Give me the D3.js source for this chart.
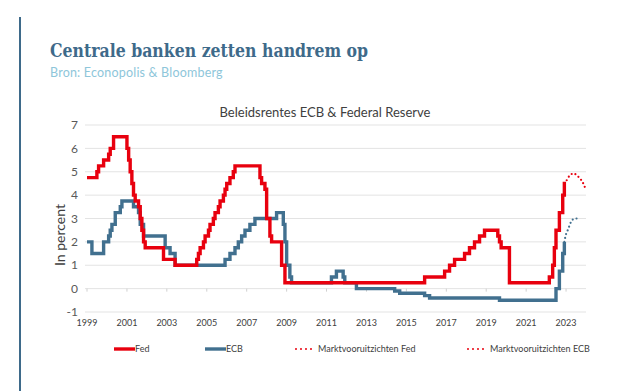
<!DOCTYPE html>
<html>
<head>
<meta charset="utf-8">
<script src="https://cdn.jsdelivr.net/npm/d3@7"></script>
<style>
  body { margin: 0; background: #fff; }
  text { font-family: Lato, "Noto Sans", sans-serif; }
</style>
</head>
<body>
<div id="chart"></div>
<script>
// Fed funds target (upper bound), change points
var fedDates = ["1999-01","1999-07","1999-08","1999-11","2000-02","2000-03","2000-05",
  "2001-01","2001-02","2001-03","2001-04","2001-05","2001-06","2001-08","2001-09","2001-10","2001-11","2001-12",
  "2002-11","2003-06","2004-07","2004-08","2004-09","2004-11","2004-12","2005-02","2005-03","2005-05","2005-06",
  "2005-08","2005-09","2005-11","2005-12","2006-01","2006-03","2006-05","2006-06",
  "2007-09","2007-10","2007-12","2008-01","2008-03","2008-04","2008-10","2008-12",
  "2015-12","2016-12","2017-03","2017-06","2017-12","2018-03","2018-06","2018-09","2018-12",
  "2019-08","2019-09","2019-10","2020-03","2022-03","2022-05","2022-06","2022-07","2022-09","2022-11","2022-12","2023-01"];
var fedRates = [4.75,5.0,5.25,5.5,5.75,6.0,6.5,
  6.0,5.5,5.0,4.5,4.0,3.75,3.5,3.0,2.5,2.0,1.75,
  1.25,1.0,1.25,1.5,1.75,2.0,2.25,2.5,2.75,3.0,3.25,
  3.5,3.75,4.0,4.25,4.5,4.75,5.0,5.25,
  4.75,4.5,4.25,3.0,2.25,2.0,1.0,0.25,
  0.5,0.75,1.0,1.25,1.5,1.75,2.0,2.25,2.5,
  2.25,2.0,1.75,0.25,0.5,1.0,1.75,2.5,3.25,4.0,4.5,4.5];

// ECB deposit rate, change points
var ecbDates = ["1999-01","1999-04","1999-11","2000-02","2000-03","2000-04","2000-06","2000-09","2000-10",
  "2001-05","2001-08","2001-09","2001-11","2002-12","2003-03","2003-06",
  "2005-12","2006-03","2006-06","2006-08","2006-10","2006-12","2007-03","2007-06",
  "2008-07","2008-11","2008-12","2009-01","2009-03","2009-04",
  "2011-04","2011-07","2011-11","2011-12","2012-07","2014-06","2014-09","2015-12","2016-03","2019-09",
  "2022-07","2022-09","2022-11","2022-12"];
var ecbRates = [2.0,1.5,2.0,2.25,2.5,2.75,3.25,3.5,3.75,
  3.5,3.25,2.75,2.25,1.75,1.5,1.0,
  1.25,1.5,1.75,2.0,2.25,2.5,2.75,3.0,
  3.25,2.75,2.0,1.0,0.5,0.25,
  0.5,0.75,0.5,0.25,0.0,-0.1,-0.2,-0.3,-0.4,-0.5,
  0.0,0.75,1.5,2.0];

// market expectations
var fedFcDates = ["2022-12","2023-01","2023-02","2023-03","2023-04","2023-05","2023-06","2023-07",
  "2023-08","2023-09","2023-10","2023-11","2023-12","2024-01"];
var fedFcRates = [4.5,4.6,4.7,4.82,4.88,4.92,4.92,4.88,4.82,4.74,4.66,4.55,4.4,4.2];
var ecbFcDates = ["2022-12","2023-01","2023-02","2023-03","2023-04","2023-05","2023-06","2023-07","2023-08","2023-09"];
var ecbFcRates = [2.0,2.33,2.5,2.67,2.85,2.95,2.98,3.0,3.0,3.0];

var yTicks = [-1,0,1,2,3,4,5,6,7];
var xTickYears = [1999,2001,2003,2005,2007,2009,2011,2013,2015,2017,2019,2021,2023];

var legendItems = [
  {label: "Fed", color: "#e8000e", dotted: false, x: 114},
  {label: "ECB", color: "#41708f", dotted: false, x: 205},
  {label: "Marktvooruitzichten Fed", color: "#e8000e", dotted: true, x: 296},
  {label: "Marktvooruitzichten ECB", color: "#e8000e", dotted: true, x: 468}
];

var width = 641, height = 391;
var fedColor = "#e8000e", ecbColor = "#41708f";

var parse = d3.timeParse("%Y-%m");
function zipSeries(dates, vals) {
  return dates.map(function(d, i) { return {date: parse(d), value: vals[i]}; });
}

var svg = d3.select("#chart").append("svg")
  .attr("width", width)
  .attr("height", height);

// side bar + headings
svg.append("line")
  .attr("x1", 20).attr("x2", 20).attr("y1", 17).attr("y2", height)
  .attr("stroke", "#3e6a8a").attr("stroke-width", 2);

svg.append("text")
  .attr("x", 50).attr("y", 57)
  .style("font-family", "'DejaVu Serif Condensed', 'DejaVu Serif', serif")
  .style("font-weight", "bold")
  .style("font-size", "19px")
  .attr("textLength", 318)
  .attr("lengthAdjust", "spacingAndGlyphs")
  .attr("fill", "#3e6a8a")
  .text("Centrale banken zetten handrem op");

svg.append("text")
  .attr("x", 50).attr("y", 77)
  .style("font-size", "12.5px")
  .style("letter-spacing", "0.2px")
  .attr("fill", "#8ec6da")
  .text("Bron: Econopolis & Bloomberg");

svg.append("text")
  .attr("x", 325).attr("y", 117)
  .attr("text-anchor", "middle")
  .style("font-size", "13px")
  .attr("fill", "#404040")
  .text("Beleidsrentes ECB & Federal Reserve");

var x = d3.scaleTime()
  .domain([new Date(1999, 0, 1), new Date(2024, 0, 1)])
  .range([87, 586]);
var y = d3.scaleLinear().domain([-1, 7]).range([312, 125]);

// gridlines
svg.append("g").selectAll("line")
  .data(yTicks).enter().append("line")
  .attr("x1", 85).attr("x2", 586)
  .attr("y1", function(d) { return y(d); })
  .attr("y2", function(d) { return y(d); })
  .attr("stroke", "#e3e3e3").attr("stroke-width", 1);

// y labels
svg.append("g").selectAll("text")
  .data(yTicks).enter().append("text")
  .attr("x", 78)
  .attr("y", function(d) { return y(d); })
  .attr("dy", "0.35em")
  .attr("text-anchor", "end")
  .style("font-size", "12px")
  .attr("fill", "#595959")
  .text(function(d) { return d; });

// x tick marks on zero line, labels at the bottom
var xYears = xTickYears.map(function(yr) { return new Date(yr, 0, 1); });
svg.append("g").selectAll("line")
  .data(xYears).enter().append("line")
  .attr("x1", function(d) { return x(d); })
  .attr("x2", function(d) { return x(d); })
  .attr("y1", y(0)).attr("y2", y(0) + 3)
  .attr("stroke", "#d0d0d0");

svg.append("g").selectAll("text")
  .data(xYears).enter().append("text")
  .attr("x", function(d) { return x(d); })
  .attr("y", 326)
  .attr("text-anchor", "middle")
  .style("font-size", "9px")
  .attr("fill", "#404040")
  .text(function(d) { return d.getFullYear(); });

svg.append("text")
  .attr("transform", "translate(65,235) rotate(-90)")
  .attr("text-anchor", "middle")
  .style("font-size", "14px")
  .attr("fill", "#404040")
  .text("In percent");

var stepLine = d3.line()
  .x(function(d) { return x(d.date); })
  .y(function(d) { return y(d.value); })
  .curve(d3.curveStepAfter);

var smoothLine = d3.line()
  .x(function(d) { return x(d.date); })
  .y(function(d) { return y(d.value); })
  .curve(d3.curveMonotoneX);

svg.append("path")
  .datum(zipSeries(ecbDates, ecbRates))
  .attr("d", stepLine)
  .attr("fill", "none").attr("stroke", ecbColor).attr("stroke-width", 3.4);

svg.append("path")
  .datum(zipSeries(fedDates, fedRates))
  .attr("d", stepLine)
  .attr("fill", "none").attr("stroke", fedColor).attr("stroke-width", 3.4);

svg.append("path")
  .datum(zipSeries(fedFcDates, fedFcRates))
  .attr("d", smoothLine)
  .attr("fill", "none").attr("stroke", fedColor).attr("stroke-width", 2.2)
  .attr("stroke-linecap", "round").attr("stroke-dasharray", "0,4");

svg.append("path")
  .datum(zipSeries(ecbFcDates, ecbFcRates))
  .attr("d", smoothLine)
  .attr("fill", "none").attr("stroke", ecbColor).attr("stroke-width", 2.2)
  .attr("stroke-linecap", "round").attr("stroke-dasharray", "0,4");

// legend
var leg = svg.append("g").selectAll("g")
  .data(legendItems).enter().append("g")
  .attr("transform", function(d) { return "translate(" + d.x + ",349)"; });

leg.append("line")
  .attr("x1", 0).attr("x2", function(d) { return d.dotted ? 18 : 21; })
  .attr("stroke", function(d) { return d.color; })
  .attr("stroke-width", function(d) { return d.dotted ? 2 : 3.4; })
  .attr("stroke-linecap", function(d) { return d.dotted ? "round" : "butt"; })
  .attr("stroke-dasharray", function(d) { return d.dotted ? "0,5" : null; });

leg.append("text")
  .attr("x", function(d) { return d.dotted ? 22 : 21; })
  .attr("dy", "0.35em")
  .style("font-size", "9px")
  .attr("fill", "#404040")
  .text(function(d) { return d.label; });
</script>
</body>
</html>
